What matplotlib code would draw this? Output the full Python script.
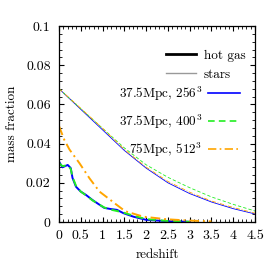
import matplotlib
matplotlib.use("Agg")
import matplotlib.pyplot as plt
from matplotlib.lines import Line2D
from matplotlib.ticker import MultipleLocator, FuncFormatter

plt.rcParams['font.family'] = ['cmr10', 'DejaVu Serif']
plt.rcParams['mathtext.fontset'] = 'cm'
plt.rcParams['axes.formatter.use_mathtext'] = True

# stars (thin lines)
z_st = [0, 0.5, 1.0, 1.5, 2.0, 2.5, 3.0, 3.5, 4.0, 4.5]
stars_256 = [0.068, 0.0575, 0.047, 0.0365, 0.0275, 0.0200, 0.0145, 0.0102, 0.0068, 0.0041]
stars_400 = [0.068, 0.0578, 0.0478, 0.0378, 0.0292, 0.0228, 0.0175, 0.0128, 0.0090, 0.0056]
stars_512 = [0.068, 0.058, 0.0478, 0.037, 0.028, 0.0207, 0.0152, 0.0107, 0.0074, 0.0045]

# hot gas (thick lines)
z_gas = [0, 0.08, 0.2, 0.27, 0.31, 0.39, 0.5, 0.62, 0.77, 0.93, 1.04, 1.19, 1.33,
         1.48, 1.71, 2.0, 2.5, 3.0]
gas_256 = [0.0308, 0.0279, 0.0291, 0.0275, 0.0225, 0.018, 0.0155, 0.0138, 0.0112,
           0.0088, 0.0072, 0.0066, 0.0062, 0.0045, 0.0027, 0.0011, 0.0004, 0.0001]
gas_400 = [0.0300, 0.0285, 0.0290, 0.0270, 0.0230, 0.0185, 0.0155, 0.0136, 0.0110,
           0.0088, 0.0074, 0.0063, 0.0056, 0.0048, 0.0032, 0.0015, 0.0005, 0.0001]
z_gas512 = [0, 0.12, 0.24, 0.47, 0.7, 0.93, 1.16, 1.31, 1.52, 1.94, 2.47, 3.0, 3.5]
gas_512 = [0.049, 0.042, 0.037, 0.030, 0.0223, 0.0155, 0.0116, 0.009, 0.0055,
           0.0027, 0.0014, 0.0007, 0.0003]

labels = ['37.5Mpc, 256$^3$', '37.5Mpc, 400$^3$', '75Mpc, 512$^3$']
colors = ['#0000ff', '#22ee22', '#ffa500']
styles = ['-', (0, (4, 2.5)), (0, (5, 2, 1, 2))]

FS = 9.5

fig = plt.figure(figsize=(2.74, 2.74), dpi=100)
ax = fig.add_axes([0.2153, 0.1898, 0.7154, 0.7153])

for ys, c, ls in zip([stars_256, stars_400, stars_512], colors, styles):
    ax.plot(z_st, ys, color=c, ls=ls, lw=0.6)
for zs, ys, c, ls in zip([z_gas, z_gas, z_gas512], [gas_256, gas_400, gas_512], colors, styles):
    ax.plot(zs, ys, color=c, ls=ls, lw=1.4)

ax.set_xlim(0, 4.5)
ax.set_ylim(0, 0.1)
ax.xaxis.set_major_locator(MultipleLocator(0.5))
ax.xaxis.set_minor_locator(MultipleLocator(0.1))
ax.yaxis.set_major_locator(MultipleLocator(0.02))
ax.yaxis.set_minor_locator(MultipleLocator(0.004))
fmt = FuncFormatter(lambda v, p: ('%g' % round(v, 4)))
ax.xaxis.set_major_formatter(fmt)
ax.yaxis.set_major_formatter(fmt)
ax.tick_params(which='both', direction='in', top=True, right=True, labelsize=10)
ax.tick_params(which='major', length=3.6, width=0.8, pad=6)
ax.tick_params(which='minor', length=2.2, width=0.6)
for s in ax.spines.values():
    s.set_linewidth(0.9)
ax.set_xlabel('redshift', fontsize=FS, labelpad=5)
ax.set_ylabel('mass fraction', fontsize=FS, labelpad=6)

h1 = [Line2D([], [], color='black', lw=2), Line2D([], [], color='#999999', lw=1)]
leg1 = ax.legend(h1, ['hot gas', 'stars'], loc='center left', bbox_to_anchor=(0.546, 0.80),
                 frameon=False, fontsize=FS, handlelength=2.3, handletextpad=0.55,
                 labelspacing=0.55, borderpad=0, borderaxespad=0)
ax.add_artist(leg1)
h2 = [Line2D([], [], color=c, ls=ls, lw=1.2) for c, ls in zip(colors, styles)]
ax.legend(h2, labels, loc='center right', bbox_to_anchor=(0.923, 0.512), frameon=False,
          fontsize=FS, markerfirst=False, handlelength=2.45, handletextpad=0.4,
          labelspacing=0.75, borderpad=0, borderaxespad=0)

fig.savefig('out.png', dpi=100)
